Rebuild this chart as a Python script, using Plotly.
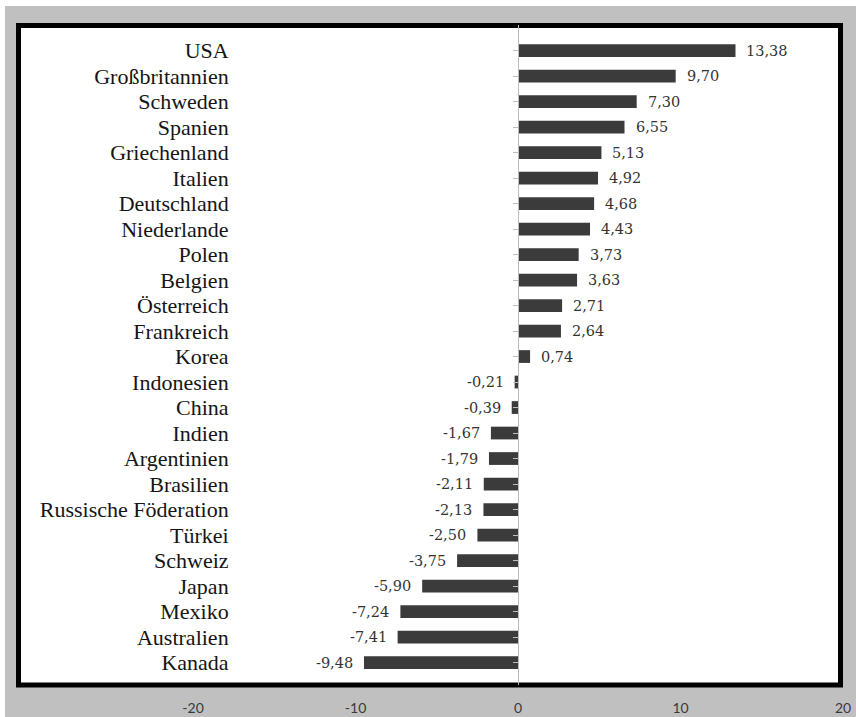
import plotly.graph_objects as go

categories = ["USA", "Großbritannien", "Schweden", "Spanien", "Griechenland", "Italien",
              "Deutschland", "Niederlande", "Polen", "Belgien", "Österreich", "Frankreich",
              "Korea", "Indonesien", "China", "Indien", "Argentinien", "Brasilien",
              "Russische Föderation", "Türkei", "Schweiz", "Japan", "Mexiko", "Australien", "Kanada"]
values = [13.38, 9.70, 7.30, 6.55, 5.13, 4.92, 4.68, 4.43, 3.73, 3.63, 2.71, 2.64,
          0.74, -0.21, -0.39, -1.67, -1.79, -2.11, -2.13, -2.50, -3.75, -5.90, -7.24, -7.41, -9.48]
x_tickvals = [-20, -10, 0, 10, 20]

W, H = 856, 717
ml, mr, mt, mb = 18, 10, 25, 32
pw, ph = W - ml - mr, H - mt - mb
x_range = [-30.77, 20.18]
y_range = [24.88, -1.0]

def px_x(p):
    return (p - ml) / pw

def px_y(p):
    return 1 - (p - mt) / ph

labels = [f"{v:.2f}".replace(".", ",") for v in values]

fig = go.Figure()
fig.add_trace(go.Bar(
    x=values, y=categories, orientation="h",
    marker=dict(color="#3b3b3b", line=dict(width=0)),
    width=0.5, hoverinfo="skip",
))

annotations = []
for c, v, t in zip(categories, values, labels):
    annotations.append(dict(
        x=v, y=c, xref="x", yref="y", text=t, showarrow=False,
        xanchor="left" if v >= 0 else "right",
        xshift=9 if v >= 0 else -9,
        font=dict(family="DejaVu Serif", size=14.5, color="#333333"),
    ))

shapes = [
    # grey backdrop, leaving thin white strips along the top and left edges
    dict(type="rect", xref="paper", yref="paper", x0=px_x(5), x1=px_x(W), y0=px_y(H), y1=px_y(6),
         fillcolor="#c0c0c0", line=dict(width=0), layer="below"),
    # white chart box with thick black border
    dict(type="rect", xref="paper", yref="paper", x0=px_x(18.5), x1=px_x(840.5),
         y0=px_y(685), y1=px_y(25.5), fillcolor="white",
         line=dict(color="black", width=5), layer="below"),
]

zero_pos = (0 - x_range[0]) / (x_range[1] - x_range[0])

fig.update_layout(
    width=W, height=H,
    margin=dict(l=ml, r=mr, t=mt, b=mb, pad=0, autoexpand=False),
    paper_bgcolor="white",
    plot_bgcolor="rgba(0,0,0,0)",
    showlegend=False,
    bargap=0.5,
    annotations=annotations,
    shapes=shapes,
    xaxis=dict(
        range=x_range, tickvals=x_tickvals, ticktext=[str(v) for v in x_tickvals],
        showgrid=False, zeroline=False, showline=False, ticks="",
        ticklabelstandoff=13, automargin=False,
        tickfont=dict(family="Lato", size=14, color="#3a3a3a"),
    ),
    yaxis=dict(
        type="category", categoryorder="array", categoryarray=categories,
        tickmode="array", tickvals=categories, ticktext=categories,
        range=y_range, anchor="free", position=zero_pos, automargin=False,
        showgrid=False, zeroline=False,
        showline=True, linecolor="#bdbdbd", linewidth=1,
        ticks="outside", ticklen=5, tickcolor="#bdbdbd", tickwidth=1,
        ticklabelstandoff=280,
        tickfont=dict(family="Liberation Serif", size=22, color="#151515"),
    ),
)

fig.write_html("out.html")
